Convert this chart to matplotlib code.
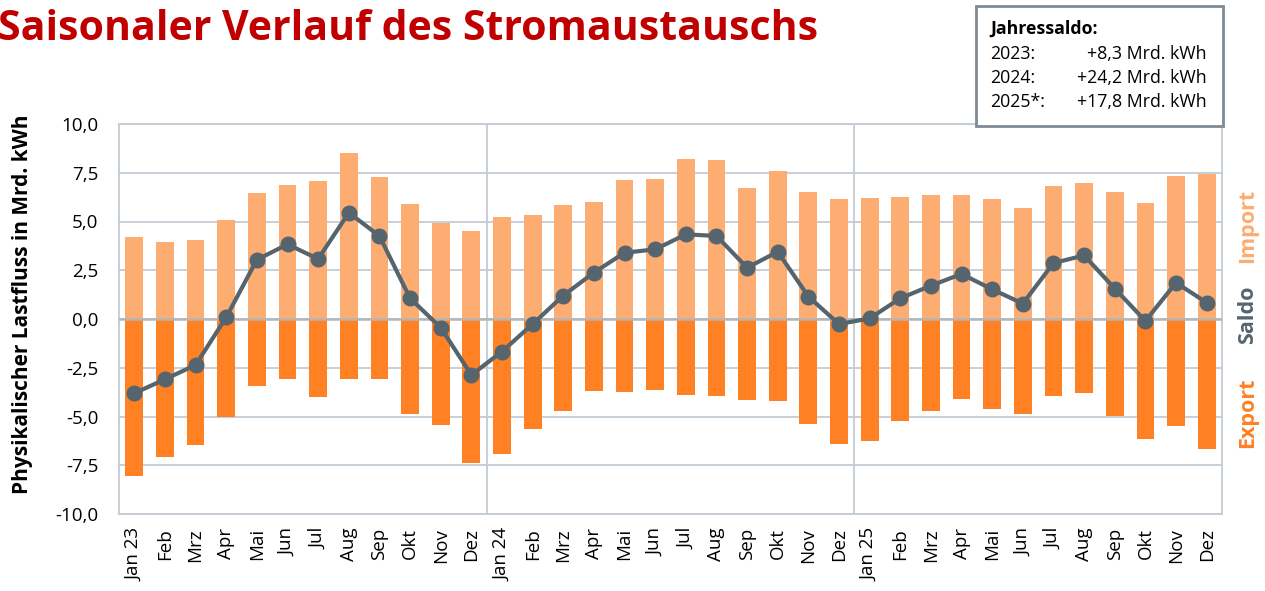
import matplotlib
matplotlib.use("Agg")
import matplotlib.pyplot as plt
import numpy as np
from matplotlib.patches import Rectangle

months = ["Jan 23", "Feb", "Mrz", "Apr", "Mai", "Jun", "Jul", "Aug", "Sep", "Okt", "Nov", "Dez",
          "Jan 24", "Feb", "Mrz", "Apr", "Mai", "Jun", "Jul", "Aug", "Sep", "Okt", "Nov", "Dez",
          "Jan 25", "Feb", "Mrz", "Apr", "Mai", "Jun", "Jul", "Aug", "Sep", "Okt", "Nov", "Dez"]

imports = [4.2, 3.93, 4.05, 5.06, 6.48, 6.86, 7.08, 8.5, 7.28, 5.91, 4.92, 4.53,
           5.21, 5.35, 5.85, 6.02, 7.13, 7.18, 8.2, 8.17, 6.72, 7.61, 6.51, 6.14,
           6.23, 6.28, 6.37, 6.37, 6.13, 5.67, 6.8, 7.0, 6.51, 5.96, 7.33, 7.46]

exports = [-8.07, -7.08, -6.44, -5.0, -3.45, -3.09, -4.02, -3.06, -3.09, -4.87, -5.42, -7.4,
           -6.92, -5.62, -4.7, -3.69, -3.74, -3.64, -3.9, -3.97, -4.14, -4.19, -5.4, -6.41,
           -6.26, -5.25, -4.7, -4.08, -4.61, -4.87, -3.96, -3.79, -4.95, -6.13, -5.51, -6.66]

saldo = [-3.81, -3.09, -2.36, 0.09, 3.04, 3.83, 3.08, 5.45, 4.26, 1.06, -0.44, -2.87,
         -1.67, -0.26, 1.2, 2.38, 3.4, 3.57, 4.34, 4.26, 2.63, 3.45, 1.15, -0.26,
         0.03, 1.06, 1.71, 2.31, 1.52, 0.79, 2.87, 3.26, 1.56, -0.1, 1.86, 0.84]

yticks = [10.0, 7.5, 5.0, 2.5, 0.0, -2.5, -5.0, -7.5, -10.0]
box_title = "Jahressaldo:"
box_years = ["2023:", "2024:", "2025*:"]
box_values = ["+8,3 Mrd. kWh", "+24,2 Mrd. kWh", "+17,8 Mrd. kWh"]

c_imp = "#FDAD72"
c_exp = "#FF8124"
c_line = "#56646E"
c_grid = "#C3CCD5"
c_title = "#C00000"

plt.rcParams['font.family'] = ['Open Sans', 'DejaVu Sans']

fig = plt.figure(figsize=(12.65, 5.91), dpi=100)
ax = fig.add_axes([119/1265, 1-514/591, (1222-119)/1265, (514-124)/591])

x = np.arange(len(months))
ax.bar(x, imports, width=0.58, color=c_imp, zorder=2)
ax.bar(x, exports, width=0.58, color=c_exp, zorder=2)
ax.plot(x, saldo, color=c_line, lw=3, marker='o', markersize=10.5, zorder=4)

ax.set_xlim(-0.5, len(months) - 0.5)
ax.set_ylim(-10, 10)
ax.set_yticks(yticks)
ax.set_yticklabels([f"{v:.1f}".replace(".", ",") for v in yticks], fontsize=13.5)
ax.set_xticks(x)
ax.set_xticklabels(months, rotation=90, fontsize=13.5)
ax.tick_params(length=0)
ax.tick_params(axis='x', pad=10)
ax.tick_params(axis='y', pad=15)

for v in yticks:
    ax.axhline(v, color=c_grid, lw=1.3, zorder=1)
ax.axhline(0, color="#B5B5B5", lw=1.8, zorder=3)
for xv in [11.5, 23.5]:
    ax.axvline(xv, color=c_grid, lw=1.3, zorder=1)
for s in ax.spines.values():
    s.set_color(c_grid)
    s.set_linewidth(1.3)

fig.text(23/1265, 1-304/591, "Physikalischer Lastfluss in Mrd. kWh", rotation=90,
         ha='center', va='center', fontsize=15, fontweight='bold')

fig.text(-2/1265, 1-30/591, "Saisonaler Verlauf des Stromaustauschs", color=c_title,
         fontsize=29.5, fontweight='bold', ha='left', va='center')

fig.text(1248/1265, 1-226/591, "Import", rotation=90, ha='center', va='center',
         color=c_imp, fontsize=15.5, fontweight='bold')
fig.text(1248/1265, 1-315/591, "Saldo", rotation=90, ha='center', va='center',
         color=c_line, fontsize=15.5, fontweight='bold')
fig.text(1248/1265, 1-413/591, "Export", rotation=90, ha='center', va='center',
         color=c_exp, fontsize=15.5, fontweight='bold')

box = Rectangle((976/1265, 1-126/591), (1223-976)/1265, (126-6)/591,
                transform=fig.transFigure, facecolor='white', edgecolor='#7F8A94',
                lw=2, zorder=10)
fig.add_artist(box)
fig.text(990/1265, 1-29/591, box_title, fontsize=12.8, fontweight='bold',
         ha='left', va='center', zorder=11)
for i, (yr, val) in enumerate(zip(box_years, box_values)):
    yy = 1 - (54 + i * 24) / 591
    fig.text(990/1265, yy, yr, fontsize=12.8, ha='left', va='center', zorder=11)
    fig.text(1207/1265, yy, val, fontsize=12.8, ha='right', va='center', zorder=11)

fig.savefig("out.png", dpi=100)
